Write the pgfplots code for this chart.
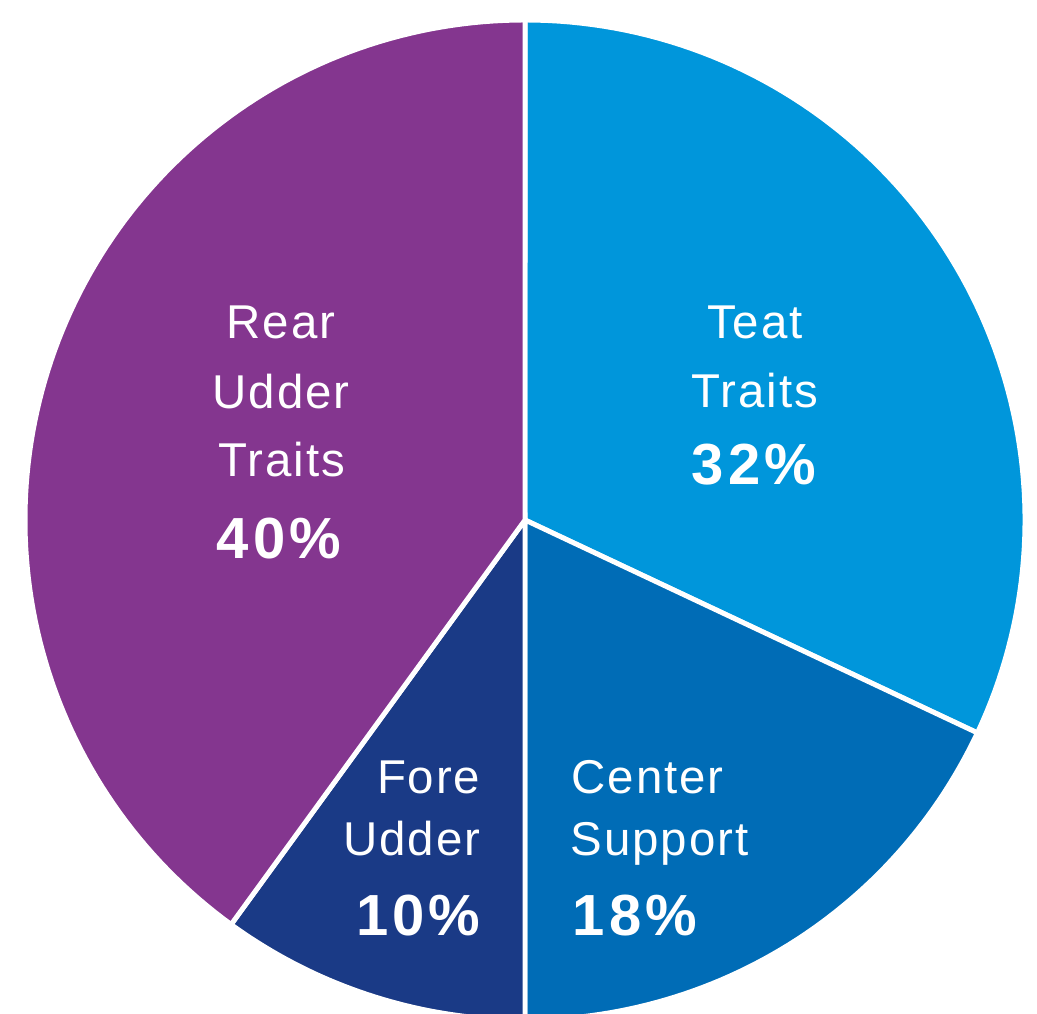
\documentclass[border=0pt]{standalone}
\usepackage{fontspec}
\usepackage{pgfplots}
\pgfplotsset{compat=1.18}
\setmainfont{Liberation Sans}
\newfontfamily\lab{Liberation Sans}[LetterSpace=4]
\newfontfamily\labb{Liberation Sans}[LetterSpace=7]
\definecolor{cTeat}{RGB}{0,150,219}
\definecolor{cCenter}{RGB}{0,108,182}
\definecolor{cFore}{RGB}{26,58,134}
\definecolor{cRear}{RGB}{132,54,143}
% shares in percent (Teat, Center Support, Fore Udder, Rear Udder), clockwise from top
\def\pTeat{32}\def\pCenter{18}\def\pFore{10}\def\pRear{40}
\begin{document}
\begin{tikzpicture}
\pgfmathsetmacro{\aA}{90}
\pgfmathsetmacro{\aB}{\aA-3.6*\pTeat}
\pgfmathsetmacro{\aC}{\aB-3.6*\pCenter}
\pgfmathsetmacro{\aD}{\aC-3.6*\pFore}
\pgfmathsetmacro{\aE}{\aD-3.6*\pRear}
\begin{axis}[name=ax, scale only axis, width=10.37cm, height=10.13cm,
  xmin=0, xmax=1037, ymin=0, ymax=1013, hide axis, clip=true]
\addplot[fill=cTeat, draw=white, line width=1.4pt, domain=\aB:\aA, samples=90, variable=\t]
  ({525+500*cos(\t)},{493+500*sin(\t)}) -- (axis cs:525,493) -- cycle;
\addplot[fill=cCenter, draw=white, line width=1.4pt, domain=\aC:\aB, samples=60, variable=\t]
  ({525+500*cos(\t)},{493+500*sin(\t)}) -- (axis cs:525,493) -- cycle;
\addplot[fill=cFore, draw=white, line width=1.4pt, domain=\aD:\aC, samples=40, variable=\t]
  ({525+500*cos(\t)},{493+500*sin(\t)}) -- (axis cs:525,493) -- cycle;
\addplot[fill=cRear, draw=white, line width=1.4pt, domain=\aE:\aD, samples=120, variable=\t]
  ({525+500*cos(\t)},{493+500*sin(\t)}) -- (axis cs:525,493) -- cycle;
\tikzset{lt/.style={text=white, inner sep=0pt, font=\lab\fontsize{13.5}{15}\selectfont},
         lb/.style={text=white, inner sep=0pt, font=\labb\bfseries\fontsize{16.5}{18}\selectfont}}
% Rear Udder Traits
\node[lt, anchor=base] at (axis cs:281,674) {Rear};
\node[lt, anchor=base] at (axis cs:281,604) {Udder};
\node[lt, anchor=base] at (axis cs:282,536) {Traits};
\node[lb, anchor=base] at (axis cs:279,455) {\pRear\%};
% Teat Traits
\node[lt, anchor=base] at (axis cs:755,674) {Teat};
\node[lt, anchor=base] at (axis cs:755,605) {Traits};
\node[lb, anchor=base] at (axis cs:754,528) {\pTeat\%};
% Fore Udder
\node[lt, anchor=base east] at (axis cs:481,220) {Fore};
\node[lt, anchor=base east] at (axis cs:481,158) {Udder};
\node[lb, anchor=base east] at (axis cs:481,78) {\pFore\%};
% Center Support
\node[lt, anchor=base west] at (axis cs:571,220) {Center};
\node[lt, anchor=base west] at (axis cs:570,158) {Support};
\node[lb, anchor=base west] at (axis cs:572,78) {\pCenter\%};
\end{axis}
\pgfresetboundingbox
\useasboundingbox (ax.south west) rectangle (ax.north east);
\end{tikzpicture}
\end{document}
